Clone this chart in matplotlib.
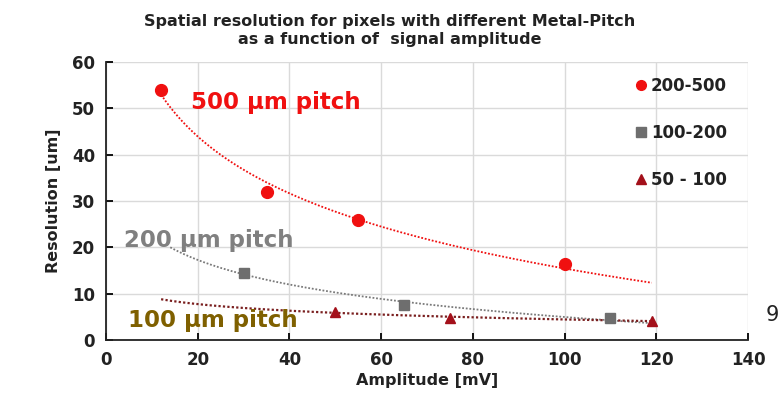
import numpy as np
import matplotlib
matplotlib.use("Agg")
import matplotlib.pyplot as plt

# Data
amp_500 = [12, 35, 55, 100]
res_500 = [54, 32, 26, 16.5]
amp_200 = [30, 65, 110]
res_200 = [14.5, 7.5, 4.7]
amp_100 = [50, 75, 119]
res_100 = [6.0, 4.8, 4.2]
labels = ["200-500", "100-200", "50 - 100"]
xticks = [0, 20, 40, 60, 80, 100, 120, 140]
yticks = [0, 10, 20, 30, 40, 50, 60]

plt.rcParams['font.family'] = ['DejaVu Sans']

fig = plt.figure(figsize=(7.8, 4.01), dpi=100)
ax = fig.add_axes([0.136, 0.152, 0.823, 0.693])

c_red = "#F01010"
c_gray = "#6E6E6E"
c_dred = "#A3101A"

def logfit(x, y, x0, x1):
    b, a = np.polyfit(np.log(x), y, 1)
    xs = np.linspace(x0, x1, 200)
    return xs, a + b * np.log(xs)

xs, ys = logfit(amp_500, res_500, 12, 119)
ax.plot(xs, ys, ls=(0, (1, 1)), color=c_red, lw=1.3, zorder=2)
xs, ys = logfit(amp_200, res_200, 14, 119)
ax.plot(xs, ys, ls=(0, (1, 1)), color="#7A7A7A", lw=1.3, zorder=2)
xs, ys = logfit(amp_100, res_100, 12, 119)
ax.plot(xs, ys, ls=(0, (1, 1)), color="#7A1F1F", lw=1.6, zorder=2)

ax.plot(amp_500, res_500, 'o', color=c_red, ms=8.5, ls='none', zorder=3, label=labels[0])
ax.plot(amp_200, res_200, 's', color=c_gray, ms=7.5, ls='none', zorder=3, label=labels[1])
ax.plot(amp_100, res_100, '^', color=c_dred, ms=7.5, ls='none', zorder=3, label=labels[2])

ax.set_xlim(0, 140)
ax.set_ylim(0, 60)
ax.set_xticks(xticks)
ax.set_yticks(yticks)
ax.grid(True, color="#DADADA", lw=1.0)
ax.set_axisbelow(True)
for s in ["top", "right"]:
    ax.spines[s].set_visible(False)
for s in ["left", "bottom"]:
    ax.spines[s].set_linewidth(1.3)
    ax.spines[s].set_color("#222222")
ax.tick_params(direction='in', length=5, width=1.3, labelsize=12, pad=8)
for t in ax.get_xticklabels() + ax.get_yticklabels():
    t.set_fontweight('bold')
    t.set_color("#222222")

ax.set_xlabel("Amplitude [mV]", fontsize=11.5, fontweight='bold', color="#222222", labelpad=3)
ax.set_ylabel("Resolution [um]", fontsize=11.5, fontweight='bold', color="#222222", labelpad=8)

fig.text(0.5, 0.965, "Spatial resolution for pixels with different Metal-Pitch\nas a function of  signal amplitude",
         ha='center', va='top', fontsize=11.5, fontweight='semibold', color="#222222", linespacing=1.25)

ax.text(18.6, 51.2, "500 \u03bcm pitch", color=c_red, fontsize=16.5, fontweight='bold',
        va='center', ha='left')
ax.text(3.9, 21.5, "200 \u03bcm pitch", color="#808080", fontsize=16.5, fontweight='bold',
        va='center', ha='left')
ax.text(4.8, 4.3, "100 \u03bcm pitch", color="#7F6000", fontsize=16.5, fontweight='bold',
        va='center', ha='left')

leg = ax.legend(loc='upper right', bbox_to_anchor=(0.985, 0.99), frameon=False,
                fontsize=12, labelspacing=1.75, handlelength=0.6, handletextpad=0.3,
                borderaxespad=0.3)
for t in leg.get_texts():
    t.set_fontweight('bold')
    t.set_color("#222222")
for h in leg.legend_handles:
    h.set_markersize(7)

fig.text(0.982, 0.214, "9", fontsize=15, color="#222222", ha='left', va='center')

fig.savefig("out.png", dpi=100)
